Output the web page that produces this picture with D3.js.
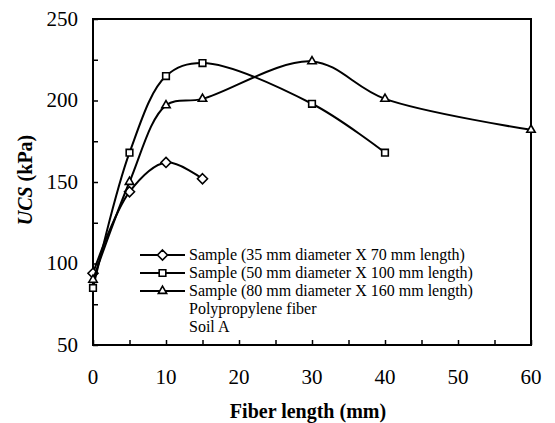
<!DOCTYPE html>
<html>
<head>
<meta charset="utf-8">
<script src="https://cdn.jsdelivr.net/npm/d3@7"></script>
<style>
  body { margin: 0; background: #fff; }
  text { font-family: "Liberation Serif", "Times New Roman", serif; fill: #000; }
</style>
</head>
<body>
<svg id="chart"></svg>
<script>
// fiber length (mm) for each sample size
const len35 = [0, 5, 10, 15]
const ucs35 = [94, 144, 162, 152]
const len50 = [0, 5, 10, 15, 30, 40]
const ucs50 = [85, 168, 215, 223, 198, 168]
const len80 = [0, 5, 10, 15, 30, 40, 60]
const ucs80 = [90, 150, 197, 201, 224, 201, 182]

const seriesNames = [
  'Sample (35 mm diameter X 70 mm length)',
  'Sample (50 mm diameter X 100 mm length)',
  'Sample (80 mm diameter X 160 mm length)'
]
const noteLines = ['Polypropylene fiber', 'Soil A']
const xTicks = [0, 10, 20, 30, 40, 50, 60]
const yTicks = [50, 100, 150, 200, 250]

const width = 555
const height = 423
const margin = {left: 93, right: 24, top: 19, bottom: 78}
const plotW = width - margin.left - margin.right
const plotH = height - margin.top - margin.bottom

const svg = d3.select('#chart')
  .attr('width', width)
  .attr('height', height)

const g = svg.append('g')
  .attr('transform', `translate(${margin.left},${margin.top})`)

const xScale = d3.scaleLinear().domain([0, 60]).range([0, plotW])
const yScale = d3.scaleLinear().domain([50, 250]).range([plotH, 0])

// frame
g.append('rect')
  .attr('width', plotW)
  .attr('height', plotH)
  .attr('fill', 'none')
  .attr('stroke', '#000')
  .attr('stroke-width', 2)

// inward ticks
const xAxis = g.append('g')
  .attr('transform', `translate(0,${plotH})`)
  .call(d3.axisBottom(xScale).tickValues(d3.range(0, 61, 5)).tickSize(-5).tickFormat(''))
const yAxis = g.append('g')
  .call(d3.axisLeft(yScale).tickValues(d3.range(50, 251, 25)).tickSize(-5).tickFormat(''))
xAxis.select('.domain').remove()
yAxis.select('.domain').remove()
g.selectAll('.tick line').attr('stroke', '#000').attr('stroke-width', 1.5)

// tick labels
g.selectAll('.x-label')
  .data(xTicks)
  .enter()
  .append('text')
  .attr('x', d => xScale(d))
  .attr('y', plotH + 39)
  .style('font-size', '21px')
  .style('text-anchor', 'middle')
  .text(d => d)

g.selectAll('.y-label')
  .data(yTicks)
  .enter()
  .append('text')
  .attr('x', -15)
  .attr('y', d => yScale(d))
  .attr('dy', '0.33em')
  .style('font-size', '21px')
  .style('text-anchor', 'end')
  .text(d => d)

// axis titles
svg.append('text')
  .attr('x', 308)
  .attr('y', 418)
  .style('font-size', '20px')
  .style('font-weight', 'bold')
  .style('text-anchor', 'middle')
  .text('Fiber length (mm)')

const yTitle = svg.append('text')
  .attr('transform', 'translate(32,180) rotate(-90)')
  .style('font-size', '20px')
  .style('font-weight', 'bold')
  .style('text-anchor', 'middle')
yTitle.append('tspan').style('font-style', 'italic').text('UCS')
yTitle.append('tspan').text(' (kPa)')

// markers
const symbols = [
  d3.symbol().type(d3.symbolDiamond2).size(64),
  d3.symbol().type(d3.symbolSquare2).size(56),
  d3.symbol().type(d3.symbolTriangle2).size(50)
]

const series = [
  {xs: len35, ys: ucs35},
  {xs: len50, ys: ucs50},
  {xs: len80, ys: ucs80}
]

const line = d3.line()
  .x(d => xScale(d[0]))
  .y(d => yScale(d[1]))
  .curve(d3.curveCatmullRom.alpha(0.5))

series.forEach((s, i) => {
  const pts = s.xs.map((x, k) => [x, s.ys[k]])
  g.append('path')
    .datum(pts)
    .attr('d', line)
    .attr('fill', 'none')
    .attr('stroke', '#000')
    .attr('stroke-width', 2)
  g.selectAll('.pt' + i)
    .data(pts)
    .enter()
    .append('path')
    .attr('transform', d => `translate(${xScale(d[0])},${yScale(d[1])})`)
    .attr('d', symbols[i])
    .attr('fill', '#fff')
    .attr('stroke', '#000')
    .attr('stroke-width', 1.6)
})

// legend
const legend = svg.append('g').attr('transform', 'translate(140,255)')
seriesNames.forEach((name, i) => {
  const row = legend.append('g').attr('transform', `translate(0,${i * 18})`)
  row.append('line')
    .attr('x1', 0).attr('x2', 45)
    .attr('stroke', '#000').attr('stroke-width', 2)
  row.append('path')
    .attr('transform', 'translate(22.5,0)')
    .attr('d', symbols[i])
    .attr('fill', '#fff')
    .attr('stroke', '#000')
    .attr('stroke-width', 1.6)
  row.append('text')
    .attr('x', 49)
    .attr('dy', '0.33em')
    .style('font-size', '16px')
    .text(name)
})
noteLines.forEach((t, i) => {
  legend.append('text')
    .attr('x', 49)
    .attr('y', 54 + i * 18)
    .attr('dy', '0.33em')
    .style('font-size', '16px')
    .text(t)
})
</script>
</body>
</html>
